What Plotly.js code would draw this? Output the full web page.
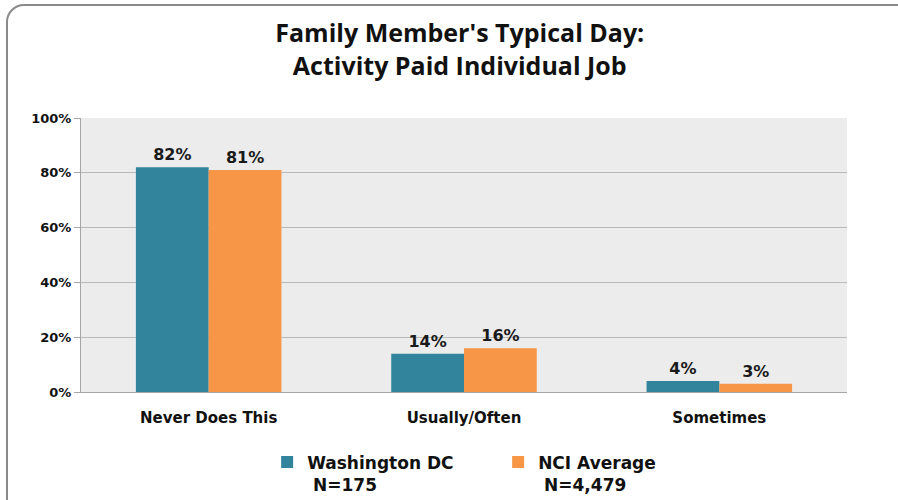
<!DOCTYPE html>
<html>
<head>
<meta charset="utf-8">
<script src="https://cdn.plot.ly/plotly-3.0.1.min.js"></script>
<style>
  html, body { margin: 0; padding: 0; background: #ffffff; overflow: hidden; }
  #frame {
    position: absolute; left: 6px; top: 4px; width: 930px; height: 540px;
    border: 2px solid #8a8a8a; border-radius: 18px; box-sizing: border-box;
  }
  #chart { position: absolute; left: 0; top: 0; width: 898px; height: 500px; }
</style>
</head>
<body>
<div id="frame"></div>
<div id="chart"></div>
<script>
const categories = ["Never Does This", "Usually/Often", "Sometimes"];
const washingtonDC = [82, 14, 4];
const nciAverage = [81, 16, 3];
const seriesNames = ["Washington DC<br>\u00a0N=175", "NCI Average<br>\u00a0N=4,479"];
const yTickVals = [0, 20, 40, 60, 80, 100];
const yTickText = ["0%", "20%", "40%", "60%", "80%", "100%"];

const labelFont = { family: "DejaVu Sans", size: 16, color: "#1a1a1a", weight: "bold" };

const traces = [
  {
    type: "bar", name: seriesNames[0], x: categories, y: washingtonDC,
    marker: { color: "#31849B" },
    text: washingtonDC.map(v => v + "%"), textposition: "outside",
    textfont: labelFont, cliponaxis: false, hoverinfo: "skip"
  },
  {
    type: "bar", name: seriesNames[1], x: categories, y: nciAverage,
    marker: { color: "#F79646" },
    text: nciAverage.map(v => v + "%"), textposition: "outside",
    textfont: labelFont, cliponaxis: false, hoverinfo: "skip"
  }
];

const layout = {
  width: 898, height: 500,
  paper_bgcolor: "rgba(0,0,0,0)",
  plot_bgcolor: "#ececec",
  margin: { l: 81, r: 51, t: 118, b: 108, autoexpand: false },
  barmode: "group", bargap: 0.43, bargroupgap: 0,
  title: {
    text: "<b>Family Member's Typical Day:<br>Activity Paid Individual Job</b>",
    font: { family: "Open Sans", size: 25, color: "#111111" },
    x: 0.512, xanchor: "center", xref: "container",
    y: 0.916, yanchor: "top", yref: "container"
  },
  xaxis: {
    type: "category", automargin: false,
    showgrid: false, zeroline: false,
    showline: true, linecolor: "#a6a6a6", linewidth: 1,
    ticks: "", ticklabelstandoff: 12,
    tickfont: { family: "DejaVu Sans", size: 15, color: "#111111", weight: "bold" }
  },
  yaxis: {
    range: [0, 100], tickvals: yTickVals, ticktext: yTickText, automargin: false,
    showgrid: true, gridcolor: "#b9b9b9", gridwidth: 1,
    zeroline: false, showline: true, linecolor: "#a6a6a6", linewidth: 1,
    ticks: "outside", ticklen: 6, tickcolor: "#a6a6a6",
    tickfont: { family: "DejaVu Sans", size: 13, color: "#111111", weight: "bold" }
  },
  showlegend: true,
  legend: {
    orientation: "h", x: 0.243, xanchor: "left",
    y: 0.111, yanchor: "top", yref: "container",
    valign: "top", entrywidth: 186, entrywidthmode: "pixels",
    itemwidth: 30, traceorder: "normal",
    font: { family: "DejaVu Sans", size: 17, color: "#111111", weight: "bold" },
    bgcolor: "rgba(0,0,0,0)"
  }
};

Plotly.newPlot("chart", traces, layout, { displayModeBar: false, staticPlot: true });
</script>
</body>
</html>
